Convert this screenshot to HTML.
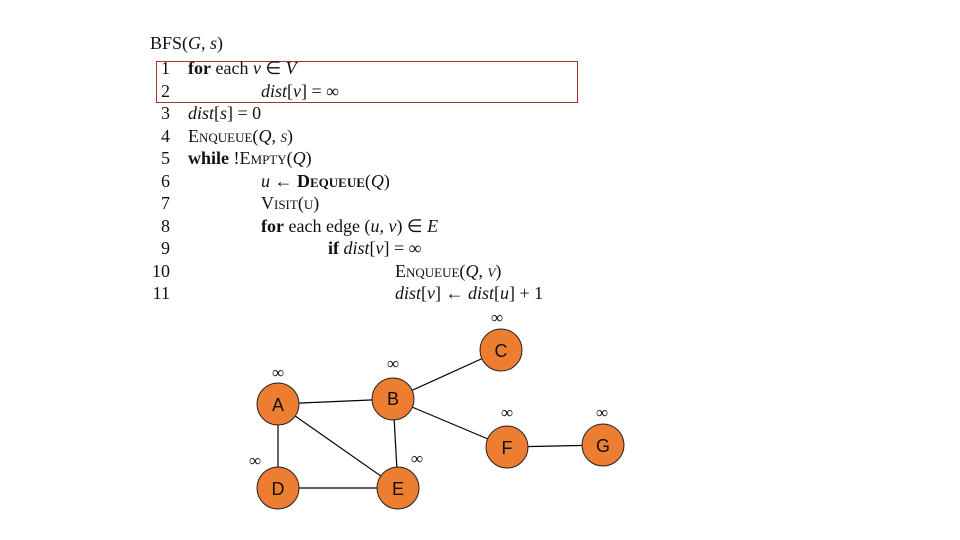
<!DOCTYPE html>
<html><head><meta charset="utf-8"><style>
body{margin:0;width:960px;height:540px;background:#fff;overflow:hidden;position:relative;font-family:"Liberation Serif",serif;color:#111}
.t{position:absolute;font-size:18px;line-height:18px;white-space:nowrap}
.n{position:absolute;font-size:18px;line-height:18px;width:30px;text-align:right;left:140px}
i{font-style:italic}
.sc{font-variant:small-caps}
</style></head><body>
<div class="t" style="left:150px;top:34px">BFS(<i>G</i>, <i>s</i>)</div>
<div style="position:absolute;left:156px;top:61px;width:420px;height:40px;border:1px solid #b03030"></div>
<div class="n" style="top:59px">1</div><div class="t" style="left:188px;top:59px"><b>for</b> each <i>v</i> ∈ <i>V</i></div>
<div class="n" style="top:82px">2</div><div class="t" style="left:261px;top:82px"><i>dist</i>[<i>v</i>] = ∞</div>
<div class="n" style="top:104px">3</div><div class="t" style="left:188px;top:104px"><i>dist</i>[<i>s</i>] = 0</div>
<div class="n" style="top:127px">4</div><div class="t sc" style="left:188px;top:127px">Enqueue(<i>Q</i>, <i>s</i>)</div>
<div class="n" style="top:149px">5</div><div class="t" style="left:188px;top:149px"><b>while</b> !<span class="sc">Empty</span>(<i>Q</i>)</div>
<div class="n" style="top:172px">6</div><div class="t" style="left:261px;top:172px"><i>u</i> ← <b class="sc">Dequeue</b>(<i>Q</i>)</div>
<div class="n" style="top:194px">7</div><div class="t sc" style="left:261px;top:194px">Visit(u)</div>
<div class="n" style="top:217px">8</div><div class="t" style="left:261px;top:217px"><b>for</b> each edge (<i>u</i>, <i>v</i>) ∈ <i>E</i></div>
<div class="n" style="top:239px">9</div><div class="t" style="left:328px;top:239px"><b>if</b> <i>dist</i>[<i>v</i>] = ∞</div>
<div class="n" style="top:262px">10</div><div class="t sc" style="left:395px;top:262px">Enqueue(<i>Q</i>, <i>v</i>)</div>
<div class="n" style="top:284px">11</div><div class="t" style="left:395px;top:284px"><i>dist</i>[<i>v</i>] ← <i>dist</i>[<i>u</i>] + 1</div>
<svg width="960" height="540" style="position:absolute;left:0;top:0">
<g stroke="#000" stroke-width="1.2">
<line x1="278" y1="404" x2="393" y2="399"/>
<line x1="278" y1="404" x2="278" y2="488"/>
<line x1="278" y1="404" x2="398" y2="488"/>
<line x1="393" y1="399" x2="398" y2="488"/>
<line x1="278" y1="488" x2="398" y2="488"/>
<line x1="393" y1="399" x2="501" y2="350"/>
<line x1="393" y1="399" x2="507" y2="447"/>
<line x1="507" y1="447" x2="603" y2="445"/>
</g>
<g fill="#ed7d31" stroke="#222" stroke-width="1">
<circle cx="278" cy="404" r="21"/><circle cx="393" cy="399" r="21"/><circle cx="501" cy="350" r="21"/>
<circle cx="278" cy="488" r="21"/><circle cx="398" cy="488" r="21"/><circle cx="507" cy="447" r="21"/><circle cx="603" cy="445" r="21"/>
</g>
<g font-family="Liberation Sans, sans-serif" font-size="18" text-anchor="middle" fill="#111">
<text x="278" y="411">A</text><text x="393" y="405">B</text><text x="501" y="357">C</text>
<text x="278" y="495">D</text><text x="398" y="495">E</text><text x="507" y="454">F</text><text x="603" y="452">G</text>
</g>
<g font-family="Liberation Serif, serif" font-size="17" text-anchor="middle" fill="#111">
<text x="278" y="378">∞</text><text x="393" y="369">∞</text><text x="497" y="323">∞</text>
<text x="255" y="466">∞</text><text x="417" y="464">∞</text><text x="507" y="418">∞</text><text x="602" y="418">∞</text>
</g>
</svg>
</body></html>
